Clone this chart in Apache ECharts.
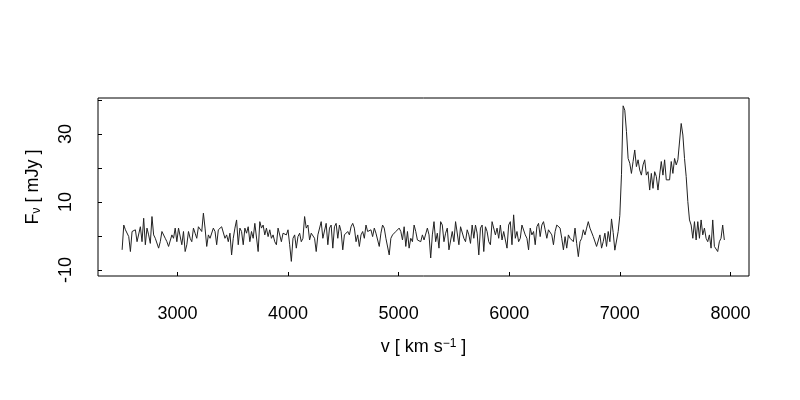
<!DOCTYPE html>
<html>
<head>
<meta charset="utf-8">
<script src="https://cdn.jsdelivr.net/npm/echarts@6/dist/echarts.min.js"></script>
<style>
html,body{margin:0;padding:0;background:#fff;}
#chart{width:800px;height:400px;}
</style>
</head>
<body>
<div id="chart"></div>
<script>
// Channel grid of the spectrum (km/s)
var velocityStart = 2500;
var velocityStep = 15;

// Flux density (mJy), channel by channel
var fluxA = [
  -4.1, 3.2, 1.8, 2.3, -0.2, -4.6, 1.3, 0.8, 1.8, -1.7,
  -2.2, 2.7, -1.7, 5.2, -2.6, 2.3, 0.3, -2.2, 5.7, 0.3,
  -0.7, -1.2, -3.6, -1.7, 1.3, 1.8, -0.7, -1.7, -3.1, -2.6,
  0.3, -0.7, 2.3, -1.7, 2.3, 2.7, -2.6, 1.3, -4.6, -2.6,
  1.3, -0.7, -1.7, 2.3, 0.8, -0.7, 2.7, 2.3, 1.3, 6.7,
  2.3, -3.1, 0.3, -0.7, -0.2, 2.3, 1.3, -2.6, 1.8, 1.3
];
var fluxB = [
  2.7, 3.2, -0.7, 0.3, -1.7, 0.8, -5.6, -0.7, 2.3, 4.7,
  -2.6, 2.3, 1.3, -2.6, 2.3, 0.8, 2.7, -1.7, 1.3, -0.7,
  3.7, 4.2, -4.6, 4.2, 2.3, 3.2, 0.3, 2.3, -0.2, 1.8,
  -0.7, 0.3, -1.7, -2.6, 2.3, 2.7, -1.7, 0.8, 1.3, 0.3,
  1.8, -2.6, -7.5, -0.7, 0.3, -3.6, -0.2, 0.8, -1.7, -0.7,
  5.7, 2.3, 3.2, -1.2, 0.8, 0.3, -0.7, -4.6, 0.3, -0.2
];
var fluxC = [
  4.2, -0.7, -0.7, 3.7, -2.6, 2.3, 3.2, -3.6, 2.7, 3.7,
  -0.7, 3.2, 1.3, -4.1, 0.3, 0.8, 1.3, 0.3, 2.7, 3.7,
  2.3, -1.7, 0.3, -3.1, 0.3, 1.3, -0.7, 3.2, 1.3, 0.8,
  1.8, -0.2, 2.3, 0.8, 1.3, -3.1, 0.8, 3.2, 2.3, -0.7,
  -0.2, -5.6, -0.7, 0.3, -0.2, 1.3, 0.8, 2.3, 1.3, -1.2,
  2.7, -3.1, 1.3, -3.6, -0.7, -1.7, 3.2, 1.3, -1.2, -0.7
];
var fluxD = [
  -1.7, 0.3, -1.2, -0.7, 2.3, 0.3, -6.5, 0.3, 4.2, -1.7,
  0.8, -3.6, 4.2, 3.2, -1.7, 0.8, 2.3, -4.1, -3.6, 1.3,
  -1.7, 4.2, 4.7, -2.6, 2.7, 2.3, -0.7, -1.7, 1.8, 0.3,
  -2.2, 3.2, -0.7, 3.2, 0.8, -5.6, 2.3, 3.2, -4.6, 2.7,
  1.3, -1.7, -2.6, 4.2, 4.7, 0.3, 2.3, -0.7, 3.2, -1.2,
  1.3, 1.8, -3.6, 3.2, 4.2, -2.6, 6.2, -0.7, 1.3, -1.7
];
var fluxE = [
  -0.7, 3.2, 2.7, 0.3, -0.7, -4.1, 2.3, 0.3, 1.3, -2.6,
  2.7, 3.7, -0.2, 3.2, 4.2, 1.8, -0.7, 1.8, 1.3, 0.3,
  -2.6, 1.3, 3.2, 3.7, 2.3, -0.7, -4.1, -0.2, -3.6, 0.3,
  -0.7, -0.2, -1.7, 2.3, -2.2, -6.1, -1.7, -0.7, 1.8, 0.3,
  2.3, 4.2, 2.3, 2.7, -0.2, 0.3, -3.1, -3.1, 0.3, -3.6
];
var fluxF = [
  -1.7, 0.8, -3.1, 1.3, -1.7, 5.0, 1.0, -4.2,
  -4.0, 1.3, 6.0, 18.0, 38.3, 37.0, 30.7, 22.8, 21.4, 18.4,
  21.9, 25.3, 20.4, 22.4, 19.4, 17.9, 20.9, 22.4, 17.9, 18.9,
  13.5, 18.4, 14.0, 18.9, 17.5, 13.5, 17.9, 21.9, 17.9, 22.4,
  16.5, 16.9, 16.5, 21.9, 18.4, 22.8, 20.9, 22.4, 21.9, 33.1,
  29.7, 22.8, 17.5, 10.1, 4.7, 3.2, -0.7, 4.2, -1.2, 4.2,
  -0.7, 4.7, 0.3, 2.3, -0.7, -1.7, 0.3, -3.6, 4.7, -3.1,
  -3.6, -4.6, -1.7, -0.7, 3.2, -1.2
];

// Axis ticks and labels
var xTicks = [3000, 4000, 5000, 6000, 7000, 8000];
var yTicks = [-10, 0, 10, 20, 30, 40];
var yLabels = [-10, 10, 30];

var flux = [].concat(fluxA, fluxB, fluxC, fluxD, fluxE, fluxF);
var seriesData = flux.map(function (f, i) {
  return [velocityStart + i * velocityStep, f];
});

var FONT = 'Liberation Sans, Arial, sans-serif';
var chart = echarts.init(document.getElementById('chart'), null, {renderer: 'canvas'});
chart.setOption({
  animation: false,
  backgroundColor: '#ffffff',
  grid: {
    left: 98, top: 98, width: 651, height: 178,
    show: true, borderColor: '#000', borderWidth: 1, backgroundColor: 'transparent',
    containLabel: false
  },
  xAxis: {
    type: 'value',
    min: 2282, max: 8168,
    axisLine: {show: false, onZero: false},
    splitLine: {show: false},
    axisTick: {show: true, inside: true, length: 4, lineStyle: {color: '#000'}, customValues: xTicks},
    axisLabel: {
      show: true, customValues: xTicks, margin: 29,
      color: '#000', fontSize: 18, fontFamily: FONT,
      formatter: function (v) { return String(v); }
    },
    name: 'v [ km s{sup|\u22121} ]',
    nameLocation: 'middle',
    nameGap: 62,
    nameTextStyle: {
      color: '#000', fontSize: 18, fontFamily: FONT,
      rich: {
        sup: {fontSize: 12, fontFamily: FONT, color: '#000', verticalAlign: 'top', lineHeight: 12, padding: [0, 0, 8, 0]}
      }
    }
  },
  yAxis: {
    type: 'value',
    min: -11.8, max: 40.6,
    axisLine: {show: false, onZero: false},
    splitLine: {show: false},
    axisTick: {show: true, inside: true, length: 4, lineStyle: {color: '#000'}, customValues: yTicks},
    axisLabel: {
      show: true, customValues: yLabels, rotate: 90, margin: 23,
      color: '#000', fontSize: 18, fontFamily: FONT,
      formatter: function (v) { return String(v); }
    },
    name: 'F{sub|\u03bd} [ mJy ]',
    nameLocation: 'middle',
    nameRotate: 90,
    nameGap: 55,
    nameTextStyle: {
      color: '#000', fontSize: 18, fontFamily: FONT,
      rich: {
        sub: {fontSize: 12, fontFamily: FONT, color: '#000', verticalAlign: 'bottom', padding: [8, 0, 0, 0]}
      }
    }
  },
  series: [{
    type: 'line',
    data: seriesData,
    showSymbol: false,
    symbol: 'none',
    lineStyle: {color: '#222', width: 1},
    clip: true
  }]
});
</script>
</body>
</html>
